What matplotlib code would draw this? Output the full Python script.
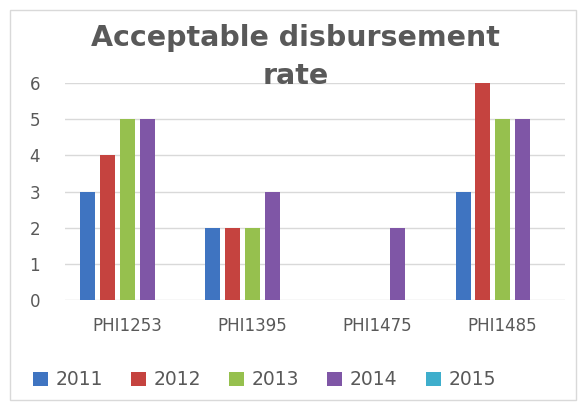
import matplotlib
matplotlib.use("Agg")
import matplotlib.pyplot as plt
import numpy as np
from matplotlib.patches import Rectangle

categories = ["PHI1253", "PHI1395", "PHI1475", "PHI1485"]
series_names = ["2011", "2012", "2013", "2014", "2015"]
values_2011 = [3, 2, 0, 3]
values_2012 = [4, 2, 0, 6]
values_2013 = [5, 2, 0, 5]
values_2014 = [5, 3, 2, 5]
values_2015 = [0, 0, 0, 0]
colors = ["#3F74C1", "#C5433F", "#96C04E", "#7F56A6", "#3EAECC"]
yticks = [0, 1, 2, 3, 4, 5, 6]

plt.rcParams['font.family'] = ['DejaVu Sans']
fig = plt.figure(figsize=(5.85, 4.05), dpi=100)
ax = fig.add_axes([0.111, 0.259, 0.855, 0.536])

all_vals = [values_2011, values_2012, values_2013, values_2014, values_2015]
x = np.arange(len(categories))
slot = 0.158
bw = 0.12
for i, (name, vals) in enumerate(zip(series_names, all_vals)):
    ax.bar(x + (i - 2) * slot, vals, width=bw, color=colors[i], label=name, zorder=3)

ax.set_xlim(-0.5, len(categories) - 0.5)
ax.set_ylim(0, 6)
ax.set_yticks(yticks)
ax.set_yticklabels([str(t) for t in yticks])
ax.set_xticks(x)
ax.set_xticklabels(categories)
ax.grid(axis='y', color='#D9D9D9', linewidth=1, zorder=0)
for s in ax.spines.values():
    s.set_visible(False)
ax.tick_params(axis='both', length=0, colors='#595959')
ax.tick_params(axis='y', labelsize=12, pad=18)
ax.tick_params(axis='x', labelsize=12, pad=12)

fig.text(0.505, 0.905, "Acceptable disbursement", ha='center', va='center',
         fontsize=20.5, fontweight='bold', color='#595959')
fig.text(0.505, 0.812, "rate", ha='center', va='center',
         fontsize=20.5, fontweight='bold', color='#595959')

leg = fig.legend(loc='center', bbox_to_anchor=(0.452, 0.062), ncol=5, frameon=False,
                 fontsize=13.5, handlelength=0.8, handleheight=0.8, columnspacing=1.5,
                 handletextpad=0.4)
for t in leg.get_texts():
    t.set_color('#595959')

fig.patches.append(Rectangle((0.017, 0.012), 0.968, 0.963, transform=fig.transFigure,
                             fill=False, edgecolor='#D9D9D9', linewidth=1))
fig.savefig("out.png", dpi=100)
